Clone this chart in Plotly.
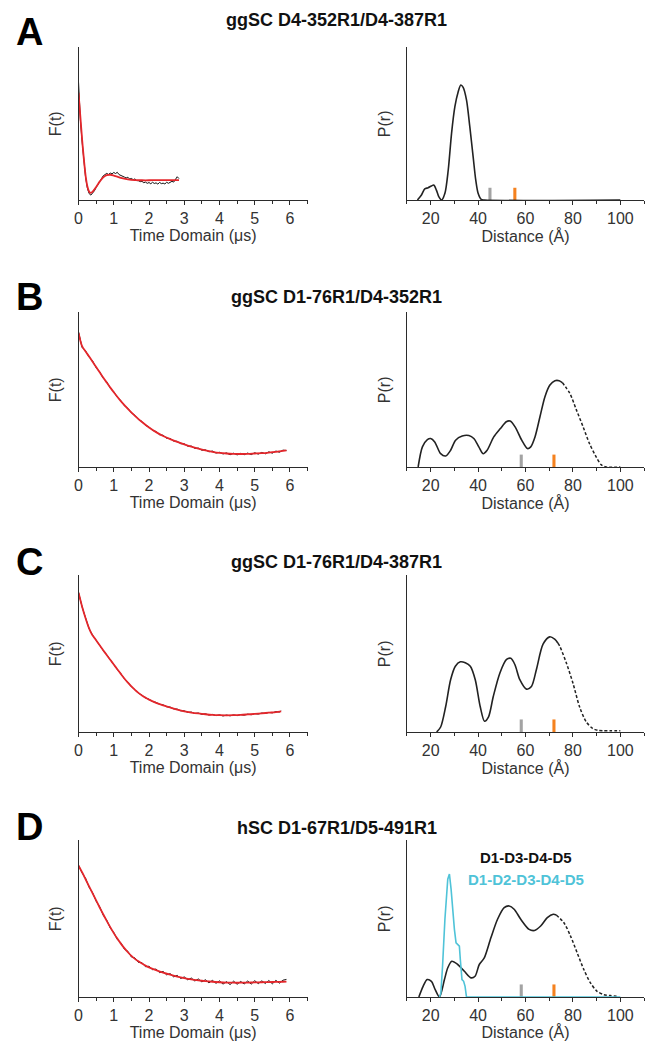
import plotly.graph_objects as go

W, H = 648, 1041

# ---------------- Panel A ----------------
tA_data = [0, 0.02, 0.05, 0.1, 0.15, 0.2, 0.25, 0.3, 0.35, 0.4, 0.45, 0.5, 0.55, 0.6, 0.65, 0.7, 0.75,
           0.8, 0.85, 0.9, 0.95, 1.0, 1.05, 1.1, 1.15, 1.2, 1.25, 1.3, 1.35, 1.4, 1.45, 1.5, 1.55, 1.6,
           1.65, 1.7, 1.75, 1.8, 1.85, 1.9, 1.95, 2.0, 2.05, 2.1, 2.15, 2.2, 2.25, 2.3, 2.35, 2.4, 2.45,
           2.5, 2.55, 2.6, 2.65, 2.7, 2.75, 2.8, 2.85]
fA_data = [0.77, 0.66, 0.53, 0.385, 0.255, 0.148, 0.078, 0.042, 0.032, 0.045, 0.060, 0.082, 0.101, 0.124,
           0.139, 0.158, 0.166, 0.174, 0.167, 0.176, 0.171, 0.180, 0.173, 0.181, 0.166, 0.162, 0.154, 0.150,
           0.144, 0.149, 0.137, 0.141, 0.133, 0.138, 0.127, 0.126, 0.120, 0.122, 0.113, 0.117, 0.109, 0.114,
           0.106, 0.116, 0.108, 0.112, 0.104, 0.115, 0.107, 0.110, 0.105, 0.116, 0.109, 0.118, 0.122, 0.117,
           0.136, 0.152, 0.140]
tA_fit = [0, 0.05, 0.1, 0.15, 0.2, 0.25, 0.3, 0.35, 0.4, 0.5, 0.6, 0.7, 0.8, 0.9, 1.0, 1.1, 1.2, 1.4,
          1.6, 1.8, 2.0, 2.2, 2.4, 2.6, 2.85]
fA_fit = [0.70, 0.55, 0.40, 0.27, 0.16, 0.09, 0.055, 0.047, 0.055, 0.085, 0.12, 0.148, 0.162, 0.165,
          0.160, 0.153, 0.145, 0.135, 0.130, 0.129, 0.129, 0.130, 0.130, 0.130, 0.130]
rA = [14.4, 16.1, 17.5, 18.9, 20.3, 21.3, 22.4, 23.4, 24.6, 26.0, 27.4, 28.8, 30.2, 31.6, 32.7, 33.7,
      35.1, 36.5, 37.9, 39.0, 40.0, 41.3, 42.7, 100]
pA = [0, 0.033, 0.072, 0.080, 0.092, 0.098, 0.065, 0.022, 0.0, 0.044, 0.196, 0.436, 0.610, 0.708,
      0.752, 0.736, 0.654, 0.479, 0.283, 0.131, 0.044, 0.004, 0, 0]
barsA_r = [45, 55.5]

# ---------------- Panel B ----------------
tB_data = [0, 0.1, 0.2, 0.3, 0.4, 0.5, 0.6, 0.7, 0.8, 0.9, 1.0, 1.1, 1.2, 1.3, 1.4, 1.5, 1.6, 1.7, 1.8,
           1.9, 2.0, 2.1, 2.2, 2.3, 2.4, 2.5, 2.6, 2.7, 2.8, 2.9, 3.0, 3.1, 3.2, 3.3, 3.4, 3.5, 3.6, 3.7,
           3.8, 3.9, 4.0, 4.1, 4.2, 4.3, 4.4, 4.5, 4.6, 4.7, 4.8, 4.9, 5.0, 5.1, 5.2, 5.3, 5.4, 5.5, 5.6,
           5.7, 5.8, 5.9]
fB_data = [0.872, 0.772, 0.749, 0.709, 0.684, 0.640, 0.615, 0.572, 0.550, 0.509, 0.486, 0.450, 0.429,
           0.396, 0.379, 0.349, 0.334, 0.306, 0.294, 0.268, 0.259, 0.236, 0.229, 0.208, 0.205, 0.185,
           0.184, 0.167, 0.166, 0.150, 0.150, 0.134, 0.135, 0.120, 0.122, 0.108, 0.111, 0.098, 0.103,
           0.090, 0.095, 0.084, 0.091, 0.079, 0.089, 0.078, 0.088, 0.079, 0.090, 0.080, 0.092, 0.083,
           0.094, 0.085, 0.098, 0.089, 0.103, 0.095, 0.109, 0.106]
tB_fit = [0, 0.1, 0.2, 0.3, 0.4, 0.5, 0.6, 0.7, 0.8, 0.9, 1.0, 1.2, 1.4, 1.6, 1.8, 2.0, 2.2, 2.4, 2.6,
          2.8, 3.0, 3.2, 3.4, 3.6, 3.8, 4.0, 4.2, 4.4, 4.6, 4.8, 5.0, 5.2, 5.4, 5.6, 5.8, 5.9]
fB_fit = [0.865, 0.78, 0.745, 0.713, 0.679, 0.645, 0.611, 0.577, 0.545, 0.513, 0.482, 0.425, 0.375,
          0.330, 0.290, 0.255, 0.225, 0.200, 0.180, 0.162, 0.146, 0.131, 0.118, 0.107, 0.098, 0.091,
          0.087, 0.085, 0.084, 0.085, 0.087, 0.089, 0.093, 0.098, 0.104, 0.107]
rB_solid = [14.7, 16.5, 18.6, 20.0, 21.7, 24.2, 26.3, 28.4, 30.5, 33.3, 36.1, 38.2, 40.3, 42.1, 43.8,
            46.6, 49.4, 51.9, 53.5, 55.6, 58.4, 60.8, 62.2, 64.0, 66.1, 68.2, 70.3, 72.4, 74.2, 75.5]
pB_solid = [0, 0.130, 0.177, 0.184, 0.162, 0.086, 0.071, 0.108, 0.173, 0.200, 0.203, 0.184, 0.130,
            0.086, 0.108, 0.194, 0.248, 0.292, 0.296, 0.259, 0.173, 0.119, 0.130, 0.194, 0.324, 0.454,
            0.529, 0.557, 0.557, 0.545]
rB_dash = [75.5, 78.7, 81.5, 84.3, 87.0, 89.8, 91.9, 94.0, 100]
pB_dash = [0.545, 0.475, 0.367, 0.259, 0.151, 0.065, 0.015, 0.0, 0.0]
barsB_r = [58.2, 72.0]

# ---------------- Panel C ----------------
tC_data = [0, 0.1, 0.2, 0.3, 0.4, 0.5, 0.6, 0.7, 0.8, 0.9, 1.0, 1.1, 1.2, 1.3, 1.4, 1.5, 1.6, 1.7, 1.8,
           1.9, 2.0, 2.1, 2.2, 2.3, 2.4, 2.5, 2.6, 2.7, 2.8, 2.9, 3.0, 3.1, 3.2, 3.3, 3.4, 3.5, 3.6, 3.7,
           3.8, 3.9, 4.0, 4.1, 4.2, 4.3, 4.4, 4.5, 4.6, 4.7, 4.8, 4.9, 5.0, 5.1, 5.2, 5.3, 5.4, 5.5, 5.6,
           5.7, 5.75]
fC_data = [0.890, 0.798, 0.727, 0.658, 0.617, 0.583, 0.555, 0.519, 0.492, 0.458, 0.432, 0.398, 0.372,
           0.339, 0.317, 0.288, 0.270, 0.247, 0.235, 0.217, 0.209, 0.194, 0.189, 0.176, 0.173, 0.161,
           0.159, 0.147, 0.146, 0.135, 0.135, 0.125, 0.127, 0.118, 0.121, 0.112, 0.116, 0.108, 0.112,
           0.104, 0.109, 0.102, 0.108, 0.103, 0.109, 0.104, 0.111, 0.107, 0.114, 0.110, 0.117, 0.114,
           0.121, 0.118, 0.125, 0.122, 0.130, 0.127, 0.134]
tC_fit = [0, 0.1, 0.2, 0.3, 0.35, 0.4, 0.5, 0.6, 0.7, 0.8, 0.9, 1.0, 1.1, 1.2, 1.3, 1.4, 1.5, 1.6, 1.7,
          1.8, 1.9, 2.0, 2.2, 2.4, 2.6, 2.8, 3.0, 3.2, 3.4, 3.6, 3.8, 4.0, 4.2, 4.4, 4.6, 4.8, 5.0, 5.2,
          5.4, 5.6, 5.75]
fC_fit = [0.887, 0.80, 0.725, 0.66, 0.635, 0.615, 0.585, 0.553, 0.521, 0.490, 0.460, 0.430, 0.400,
          0.370, 0.341, 0.315, 0.290, 0.268, 0.249, 0.233, 0.219, 0.206, 0.186, 0.170, 0.156, 0.143,
          0.132, 0.124, 0.118, 0.113, 0.109, 0.107, 0.106, 0.107, 0.109, 0.112, 0.115, 0.119, 0.123,
          0.127, 0.131]
rC_solid = [22.5, 24.2, 26.3, 28.4, 30.4, 32.5, 34.6, 36.7, 38.8, 40.9, 42.7, 44.4, 46.4, 49.2, 52.0,
            53.8, 55.5, 57.6, 60.4, 62.5, 64.6, 67.4, 70.2, 72.3, 73.7]
pC_solid = [0, 0.032, 0.161, 0.333, 0.419, 0.447, 0.441, 0.419, 0.333, 0.161, 0.069, 0.097, 0.226,
            0.376, 0.462, 0.469, 0.430, 0.333, 0.273, 0.290, 0.398, 0.559, 0.606, 0.591, 0.565]
rC_dash = [73.7, 74.4, 77.2, 80.0, 82.8, 85.6, 88.4, 90.5, 93.0, 96.0, 100]
pC_dash = [0.565, 0.548, 0.441, 0.312, 0.161, 0.065, 0.022, 0.011, 0.008, 0.008, 0.008]
barsC_r = [58.2, 72.0]

# ---------------- Panel D ----------------
tD_data = tB_data
fD_data = [0.840, 0.790, 0.756, 0.699, 0.664, 0.610, 0.575, 0.521, 0.490, 0.439, 0.411, 0.366, 0.346,
           0.305, 0.291, 0.255, 0.249, 0.220, 0.219, 0.193, 0.196, 0.174, 0.178, 0.155, 0.163, 0.141,
           0.149, 0.128, 0.138, 0.118, 0.128, 0.109, 0.121, 0.102, 0.115, 0.096, 0.110, 0.090, 0.106,
           0.087, 0.103, 0.082, 0.098, 0.079, 0.101, 0.081, 0.099, 0.083, 0.102, 0.082, 0.104, 0.085,
           0.103, 0.086, 0.105, 0.084, 0.106, 0.088, 0.107, 0.112]
tD_fit = [0, 0.1, 0.2, 0.3, 0.4, 0.5, 0.6, 0.7, 0.8, 0.9, 1.0, 1.1, 1.2, 1.3, 1.4, 1.5, 1.6, 1.7, 1.8,
          1.9, 2.0, 2.2, 2.4, 2.6, 2.8, 3.0, 3.2, 3.4, 3.6, 3.8, 4.0, 4.2, 4.4, 4.6, 4.8, 5.0, 5.2, 5.4,
          5.6, 5.8, 5.9]
fD_fit = [0.836, 0.795, 0.750, 0.705, 0.660, 0.615, 0.570, 0.527, 0.485, 0.445, 0.407, 0.372, 0.340,
          0.311, 0.285, 0.262, 0.243, 0.227, 0.213, 0.200, 0.189, 0.171, 0.155, 0.142, 0.130, 0.120,
          0.112, 0.106, 0.101, 0.097, 0.094, 0.092, 0.091, 0.091, 0.092, 0.093, 0.094, 0.095, 0.096,
          0.097, 0.098]
rD_solid = [15.0, 16.8, 18.5, 20.3, 21.9, 23.7, 25.8, 27.2, 28.9, 31.4, 34.2, 37.0, 38.7, 40.5, 42.6,
            45.4, 48.2, 51.0, 53.1, 55.2, 58.0, 61.5, 63.8, 66.4, 69.2, 71.7, 73.0]
pD_solid = [0, 0.068, 0.111, 0.100, 0.047, 0, 0.111, 0.186, 0.228, 0.207, 0.164, 0.122, 0.132, 0.207,
            0.249, 0.377, 0.495, 0.569, 0.580, 0.559, 0.495, 0.431, 0.424, 0.452, 0.505, 0.527, 0.522]
rD_dash = [73.0, 76.2, 79.0, 81.8, 84.6, 87.4, 90.2, 93.0, 95.8, 99.3]
pD_dash = [0.522, 0.473, 0.388, 0.281, 0.175, 0.090, 0.036, 0.015, 0.009, 0.004]
rD_cyan = [23.7, 24.3, 25.0, 26.0, 27.2, 27.9, 28.6, 29.3, 30.0, 30.7, 31.4, 32.1, 32.5, 33.2, 33.9,
           34.5, 35.1, 100]
pD_cyan = [0, 0.026, 0.196, 0.495, 0.750, 0.783, 0.687, 0.537, 0.431, 0.345, 0.335, 0.324, 0.239,
           0.111, 0.100, 0.068, 0, 0]
barsD_r = [58.2, 72.0]

bar_height = [0.08, 0.08]
bar_colors = ["#A3A3A3", "#F5821F"]

panel_letters = ["A", "B", "C", "D"]
panel_titles = ["ggSC D4-352R1/D4-387R1", "ggSC D1-76R1/D4-352R1",
                "ggSC D1-76R1/D4-387R1", "hSC D1-67R1/D5-491R1"]
legend_labels = ["D1-D3-D4-D5", "D1-D2-D3-D4-D5"]

# ---------------- layout geometry (pixels) ----------------
row_px = [(47, 200), (312, 467), (575, 732), (840, 997)]
left_px = (75, 305.5)
right_px = (405.5, 644)
title_y_px = [20, 297, 562, 828]
letter_y_px = [32, 297, 562, 827]

FONT = "Liberation Sans, Arial, sans-serif"
RED = "#E4262B"
CYAN = "#4FC3D8"
AX = "#2b2b2b"

fig = go.Figure()


def xd(p):
    return [p[0] / W, p[1] / W]


def yd(p):
    return [1 - p[1] / H, 1 - p[0] / H]


def add_axes(i, left, row):
    xa = "xaxis" if i == 1 else f"xaxis{i}"
    ya = "yaxis" if i == 1 else f"yaxis{i}"
    ref = "" if i == 1 else str(i)
    if left:
        xr, dt, mdt, ttl = [0, 6.5], 1, 0.5, "Time Domain (μs)"
    else:
        xr, dt, mdt, ttl = [10, 110], 20, 10, "Distance (Å)"
    fig.layout[xa] = dict(
        domain=xd(left_px if left else right_px), range=xr, anchor="y" + ref,
        showline=True, linecolor=AX, linewidth=1.3, showgrid=False, zeroline=False,
        ticks="outside", ticklen=4, tickwidth=1, tickcolor=AX, dtick=dt, tick0=0,
        minor=dict(ticks="outside", ticklen=3, tickwidth=1, tickcolor=AX, dtick=mdt, showgrid=False),
        tickfont=dict(family=FONT, size=16, color="#333"),
        title=dict(text=ttl, font=dict(family=FONT, size=16, color="#333"), standoff=1),
    )
    fig.layout[ya] = dict(
        domain=yd(row_px[row]), range=[0, 1], anchor="x" + ref,
        showline=True, linecolor=AX, linewidth=1.3, showgrid=False, zeroline=False,
        showticklabels=False, ticks="",
    )
    return "x" + ref, "y" + ref


def line(x, y, xa, ya, color, width, dash="solid", shape="spline", smoothing=0.6):
    fig.add_trace(go.Scatter(x=x, y=y, xaxis=xa, yaxis=ya, mode="lines",
                             line=dict(color=color, width=width, dash=dash, shape=shape,
                                       smoothing=smoothing if shape == "spline" else None),
                             showlegend=False, hoverinfo="skip"))


def bars(r, xa, ya):
    fig.add_trace(go.Bar(x=r, y=bar_height, xaxis=xa, yaxis=ya, width=[1.3, 1.3],
                         marker=dict(color=bar_colors, line=dict(width=0)),
                         showlegend=False, hoverinfo="skip"))


time_sets = [(tA_data, fA_data, tA_fit, fA_fit), (tB_data, fB_data, tB_fit, fB_fit),
             (tC_data, fC_data, tC_fit, fC_fit), (tD_data, fD_data, tD_fit, fD_fit)]
dist_sets = [(rA, pA, None, None, barsA_r), (rB_solid, pB_solid, rB_dash, pB_dash, barsB_r),
             (rC_solid, pC_solid, rC_dash, pC_dash, barsC_r), (rD_solid, pD_solid, rD_dash, pD_dash, barsD_r)]

for row in range(4):
    li = 2 * row + 1
    ri = 2 * row + 2
    xl, yl = add_axes(li, True, row)
    xr_, yr_ = add_axes(ri, False, row)

    td, fd, tf, ff = time_sets[row]
    line(td, fd, xl, yl, "#111111", 1.0, shape="linear")
    line(tf, ff, xl, yl, RED, 1.8, smoothing=0.8)

    rs, ps, rdsh, pdsh, br = dist_sets[row]
    line(rs, ps, xr_, yr_, "#222222", 1.6, smoothing=0.8)
    if rdsh is not None:
        line(rdsh, pdsh, xr_, yr_, "#222222", 1.5, dash="3px,2px", smoothing=0.8)
    if row == 3:
        line(rD_cyan, pD_cyan, xr_, yr_, CYAN, 1.6, shape="linear")
    bars(br, xr_, yr_)

# annotations
ann = []
for row in range(4):
    top, bot = row_px[row]
    ymid = 1 - (top + bot) / 2 / H
    ann.append(dict(text="F(t)", xref="paper", yref="paper", x=52 / W, y=ymid, showarrow=False,
                    textangle=-90, font=dict(family=FONT, size=16, color="#333"),
                    xanchor="center", yanchor="middle"))
    ann.append(dict(text="P(r)", xref="paper", yref="paper", x=383 / W, y=ymid, showarrow=False,
                    textangle=-90, font=dict(family=FONT, size=16, color="#333"),
                    xanchor="center", yanchor="middle"))
    ann.append(dict(text=f"<b>{panel_titles[row]}</b>", xref="paper", yref="paper", x=335 / W,
                    y=1 - title_y_px[row] / H, showarrow=False,
                    font=dict(family=FONT, size=18, color="#111"), xanchor="center", yanchor="middle"))
    ann.append(dict(text=f"<b>{panel_letters[row]}</b>", xref="paper", yref="paper", x=26 / W,
                    y=1 - letter_y_px[row] / H, showarrow=False,
                    font=dict(family=FONT, size=38, color="#000"), xanchor="center", yanchor="middle"))

ann.append(dict(text=f"<b>{legend_labels[0]}</b>", xref="paper", yref="paper", x=525 / W,
                y=1 - 857 / H, showarrow=False, font=dict(family=FONT, size=15, color="#111"),
                xanchor="center", yanchor="middle"))
ann.append(dict(text=f"<b>{legend_labels[1]}</b>", xref="paper", yref="paper", x=525 / W,
                y=1 - 879 / H, showarrow=False, font=dict(family=FONT, size=15, color=CYAN),
                xanchor="center", yanchor="middle"))

fig.update_layout(width=W, height=H, margin=dict(l=0, r=0, t=0, b=0),
                  paper_bgcolor="white", plot_bgcolor="white", annotations=ann,
                  barmode="overlay", showlegend=False)

# remove the default 8px page margin so the figure sits at the window's top-left corner
fig.write_html("out.html", config={"displayModeBar": False},
               post_script="document.body.style.margin='0px';document.body.style.overflow='hidden';")
